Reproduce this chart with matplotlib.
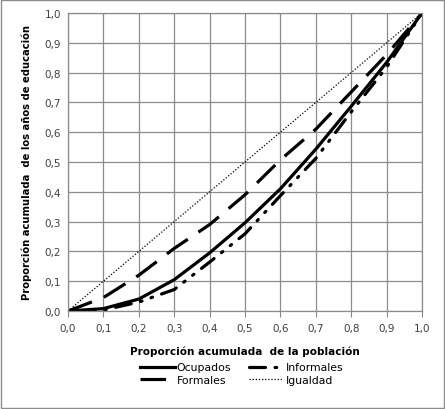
import matplotlib
matplotlib.use('Agg')
import matplotlib.pyplot as plt
from matplotlib.ticker import FuncFormatter

# proporcion acumulada de la poblacion
poblacion = [0.0, 0.1, 0.2, 0.3, 0.4, 0.5, 0.6, 0.7, 0.8, 0.9, 1.0]
ocupados = [0.0, 0.008, 0.04, 0.105, 0.195, 0.296, 0.41, 0.543, 0.687, 0.834, 1.0]
informales = [0.0, 0.003, 0.03, 0.072, 0.164, 0.259, 0.387, 0.512, 0.668, 0.818, 1.0]
formales = [0.0, 0.045, 0.12, 0.21, 0.29, 0.39, 0.507, 0.61, 0.735, 0.86, 1.0]
igualdad = [0.0, 0.1, 0.2, 0.3, 0.4, 0.5, 0.6, 0.7, 0.8, 0.9, 1.0]

ticks = [0.0, 0.1, 0.2, 0.3, 0.4, 0.5, 0.6, 0.7, 0.8, 0.9, 1.0]

fig = plt.figure(figsize=(4.45, 4.10), dpi=100)
ax = fig.add_axes([68 / 445, 98 / 410, 354 / 445, 298 / 410])

l_ocu, = ax.plot(poblacion, ocupados, color='black', lw=2.3, ls='-', label='Ocupados')
l_inf, = ax.plot(poblacion, informales, color='black', lw=2.3,
                 ls=(0, (5, 3, 0.5, 3, 0.5, 3)), dash_capstyle='round', label='Informales')
l_for, = ax.plot(poblacion, formales, color='black', lw=2.3, ls=(0, (8, 4)), label='Formales')
l_igu, = ax.plot(poblacion, igualdad, color='black', lw=0.9, ls=(0, (1, 1.5)), label='Igualdad')

ax.set_xlim(0, 1)
ax.set_ylim(0, 1)
ax.set_xticks(ticks)
ax.set_yticks(ticks)
fmt = FuncFormatter(lambda v, p: ('%.1f' % v).replace('.', ','))
ax.xaxis.set_major_formatter(fmt)
ax.yaxis.set_major_formatter(fmt)
ax.tick_params(labelsize=7.5, length=0, pad=5, colors='#404040')
ax.tick_params(axis='x', length=4, direction='out', color='#888888')
ax.grid(True, color='#8c8c8c', lw=0.9)
ax.set_axisbelow(True)
for s in ax.spines.values():
    s.set_color('#8c8c8c')
    s.set_linewidth(0.9)

ax.set_xlabel('Proporción acumulada  de la población', fontsize=7.5, fontweight='bold', labelpad=9)
ax.set_ylabel('Proporción acumulada  de los años de educación', fontsize=7.2, fontweight='bold', labelpad=9)

# legend row by row: Ocupados, Informales / Formales, Igualdad
leg = ax.legend([l_ocu, l_for, l_inf, l_igu], ['Ocupados', 'Formales', 'Informales', 'Igualdad'],
                loc='upper center', bbox_to_anchor=(0.49, -0.14), ncol=2, frameon=False,
                fontsize=7.8, handlelength=3.2, handletextpad=0.2, columnspacing=1.6,
                labelspacing=0.2)

fig.patches.append(plt.Rectangle((0.002, 0.002), 0.996, 0.996, transform=fig.transFigure,
                                 fill=False, edgecolor='#8c8c8c', lw=1))

fig.savefig('out.png', dpi=100)
